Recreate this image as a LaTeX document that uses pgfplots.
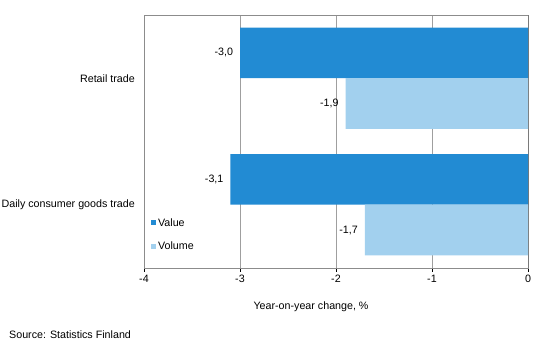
\documentclass[border=0pt]{standalone}
\usepackage{pgfplots}
\pgfplotsset{compat=1.18}
\usepackage{fontspec}
\setmainfont{Liberation Sans}
\definecolor{valc}{RGB}{34,139,211}
\definecolor{volc}{RGB}{162,208,238}
\begin{document}
\begin{tikzpicture}[font=\fontsize{10.7bp}{12bp}\selectfont]
\useasboundingbox (0,0) rectangle (539bp,363bp);
\begin{axis}[
 at={(144bp,95bp)}, anchor=south west,
 scale only axis, width=384bp, height=253bp,
 xbar, bar width=0.4,
 xmin=-4, xmax=0, ymin=-0.5, ymax=1.5,
 xtick={-4,-3,-2,-1,0},
 xtick pos=bottom, ytick pos=left,
 ytick={0,1}, yticklabels={Daily consumer goods trade, Retail trade},
 xmajorgrids, grid style={gray!75, line width=0.6bp},
 axis line style={gray!90, line width=0.6bp},
 tick align=outside, major tick length=4bp,
 xtick style={black, line width=0.6bp}, ytick style={draw=none},
 xticklabel style={/pgf/number format/assume math mode=true},
 yticklabel style={inner sep=0pt, xshift=-5bp},
 xlabel={Year-on-year change, \%},
 xlabel style={at={(axis description cs:0.435,-0.154)}, anchor=center},
 nodes near coords={\pgfmathprintnumber[fixed,fixed zerofill,precision=1,use comma,assume math mode=true]{\pgfplotspointmeta}},
 every node near coord/.append style={anchor=east, xshift=-3.5bp, black},
 legend style={draw=none, fill=none, at={(axis description cs:0.018,0.205)}, anchor=north west, row sep=10bp, inner sep=0pt, nodes={inner sep=2bp}},
 legend image code/.code={\fill[#1, draw=none] (0bp,-2.5bp) rectangle (5bp,2.5bp);},
 legend cell align=left,
]
\addplot[fill=valc, draw=none, bar shift=0.2] coordinates {(-3.1,0) (-3.0,1)};
\addplot[fill=volc, draw=none, bar shift=-0.2] coordinates {(-1.7,0) (-1.9,1)};
\legend{Value, Volume}
\draw[black, line width=0.8bp] (axis cs:-4,-0.5) -- (axis cs:0,-0.5) -- (axis cs:0,1.5);
\end{axis}
\node[anchor=west, inner sep=0pt] at (9bp,28bp) {Source: Statistics Finland};
\end{tikzpicture}
\end{document}
